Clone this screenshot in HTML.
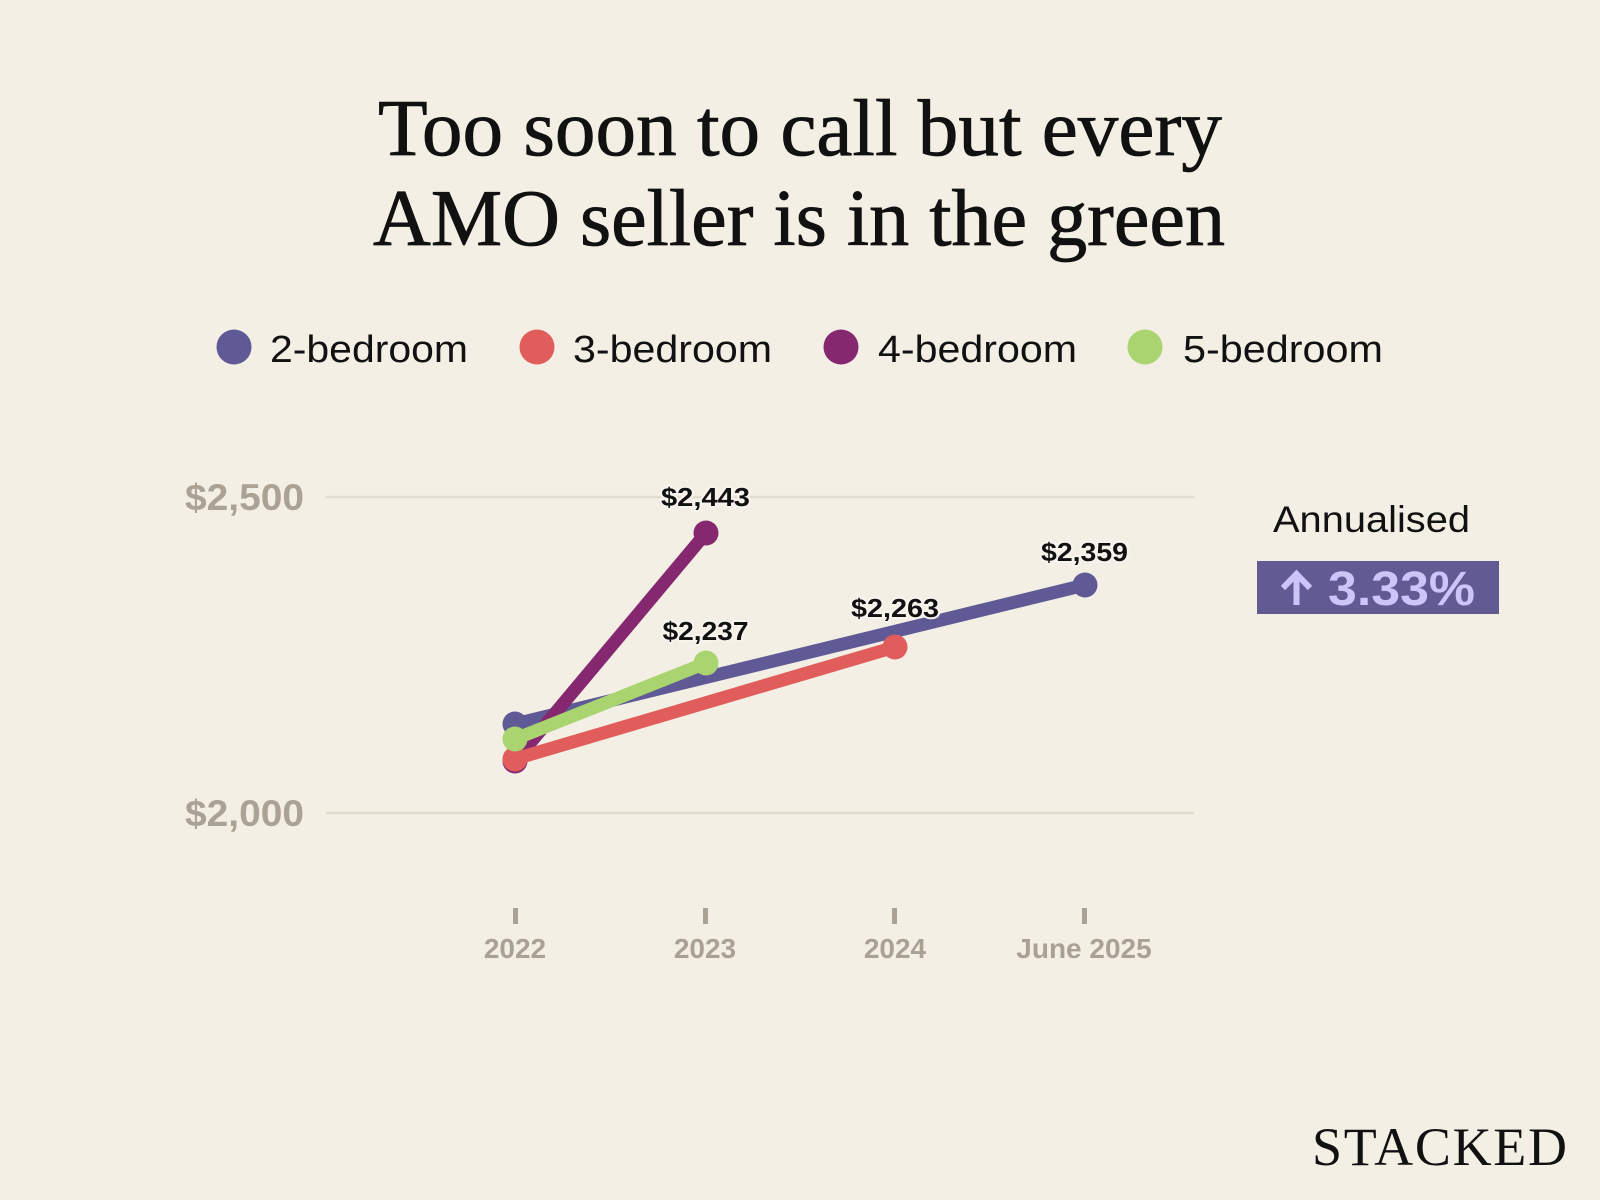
<!DOCTYPE html>
<html>
<head>
<meta charset="utf-8">
<style>
  html, body { margin: 0; padding: 0; background: #f4efe4; }
  svg { display: block; }
</style>
</head>
<body>
<svg width="1600" height="1200" viewBox="0 0 1600 1200" xmlns="http://www.w3.org/2000/svg">
  <rect x="0" y="0" width="1600" height="1200" fill="#f4efe4"/>

  <!-- Title -->
  <text x="378" y="155" font-family="'Liberation Serif', serif" font-size="80" fill="#111" stroke="#111" stroke-width="0.8" textLength="844" lengthAdjust="spacingAndGlyphs">Too soon to call but every</text>
  <text x="373" y="245" font-family="'Liberation Serif', serif" font-size="80" fill="#111" stroke="#111" stroke-width="0.8" textLength="852" lengthAdjust="spacingAndGlyphs">AMO seller is in the green</text>

  <!-- Legend -->
  <g font-family="'Liberation Sans', sans-serif" font-size="38" fill="#111">
    <circle cx="234" cy="347" r="17.5" fill="#5f5a96"/>
    <text x="270" y="362" textLength="198" lengthAdjust="spacingAndGlyphs">2-bedroom</text>
    <circle cx="537" cy="347" r="17.5" fill="#e05d5c"/>
    <text x="573" y="362" textLength="199" lengthAdjust="spacingAndGlyphs">3-bedroom</text>
    <circle cx="841" cy="347" r="17.5" fill="#86286f"/>
    <text x="878" y="362" textLength="199" lengthAdjust="spacingAndGlyphs">4-bedroom</text>
    <circle cx="1145" cy="347" r="17.5" fill="#aad470"/>
    <text x="1183" y="362" textLength="200" lengthAdjust="spacingAndGlyphs">5-bedroom</text>
  </g>

  <!-- Gridlines -->
  <line x1="326" y1="497" x2="1194" y2="497" stroke="#e2dccf" stroke-width="2.5"/>
  <line x1="326" y1="813" x2="1194" y2="813" stroke="#e2dccf" stroke-width="2.5"/>

  <!-- Y labels -->
  <g font-family="'Liberation Sans', sans-serif" font-weight="bold" font-size="37" fill="#aaa294" text-anchor="end">
    <text x="304" y="510" textLength="119" lengthAdjust="spacingAndGlyphs">$2,500</text>
    <text x="304" y="826" textLength="119" lengthAdjust="spacingAndGlyphs">$2,000</text>
  </g>

  <!-- X ticks & labels -->
  <g fill="#a9a194">
    <rect x="513" y="908" width="5" height="16"/>
    <rect x="703" y="908" width="5" height="16"/>
    <rect x="892" y="908" width="5" height="16"/>
    <rect x="1082" y="908" width="5" height="16"/>
  </g>
  <g font-family="'Liberation Sans', sans-serif" font-weight="bold" font-size="28" fill="#a9a194" text-anchor="middle">
    <text x="515" y="958">2022</text>
    <text x="705" y="958">2023</text>
    <text x="895" y="958">2024</text>
    <text x="1084" y="958">June 2025</text>
  </g>

  <!-- Series: 2-bedroom -->
  <g>
    <line x1="515" y1="724" x2="1085" y2="585" stroke="#5f5a96" stroke-width="13"/>
    <circle cx="515" cy="724" r="12.5" fill="#5f5a96"/>
    <circle cx="1085" cy="585" r="12.5" fill="#5f5a96"/>
  </g>
  <!-- 4-bedroom -->
  <g>
    <line x1="515" y1="761" x2="706" y2="533" stroke="#86286f" stroke-width="13"/>
    <circle cx="515" cy="761" r="12.5" fill="#86286f"/>
    <circle cx="706" cy="533" r="12.5" fill="#86286f"/>
  </g>
  <!-- 3-bedroom -->
  <g>
    <line x1="515" y1="759" x2="895" y2="647" stroke="#e05d5c" stroke-width="13"/>
    <circle cx="515" cy="759" r="12.5" fill="#e05d5c"/>
    <circle cx="895" cy="647" r="12.5" fill="#e05d5c"/>
  </g>
  <!-- 5-bedroom -->
  <g>
    <line x1="515" y1="739" x2="706" y2="663" stroke="#aad470" stroke-width="13"/>
    <circle cx="515" cy="739" r="12.5" fill="#aad470"/>
    <circle cx="706" cy="663" r="12.5" fill="#aad470"/>
  </g>

  <!-- Data labels -->
  <g font-family="'Liberation Sans', sans-serif" font-weight="bold" font-size="26" fill="#111" text-anchor="middle" stroke="#f7f4ee" stroke-width="4" paint-order="stroke" stroke-linejoin="round">
    <text x="705.5" y="506" textLength="89" lengthAdjust="spacingAndGlyphs">$2,443</text>
    <text x="705.5" y="640" textLength="86" lengthAdjust="spacingAndGlyphs">$2,237</text>
    <text x="895" y="617" textLength="88" lengthAdjust="spacingAndGlyphs">$2,263</text>
    <text x="1084.5" y="561" textLength="87" lengthAdjust="spacingAndGlyphs">$2,359</text>
  </g>

  <!-- Annualised -->
  <text x="1273" y="532" font-family="'Liberation Sans', sans-serif" font-size="37" fill="#111" textLength="197" lengthAdjust="spacingAndGlyphs">Annualised</text>
  <rect x="1257" y="561" width="242" height="53" fill="#625a93"/>
  <g stroke="#cdc5fa" stroke-width="6" fill="none" stroke-linecap="butt" stroke-linejoin="miter">
    <line x1="1296.5" y1="575" x2="1296.5" y2="605"/>
    <polyline points="1283,588 1296.5,574 1310,588"/>
  </g>
  <text x="1328" y="605" font-family="'Liberation Sans', sans-serif" font-weight="bold" font-size="48" fill="#cdc5fa" textLength="147" lengthAdjust="spacingAndGlyphs">3.33%</text>

  <!-- Logo -->
  <text x="1312" y="1165" font-family="'Liberation Serif', serif" font-size="54" fill="#111" textLength="255" lengthAdjust="spacing">STACKED</text>
</svg>
</body>
</html>
